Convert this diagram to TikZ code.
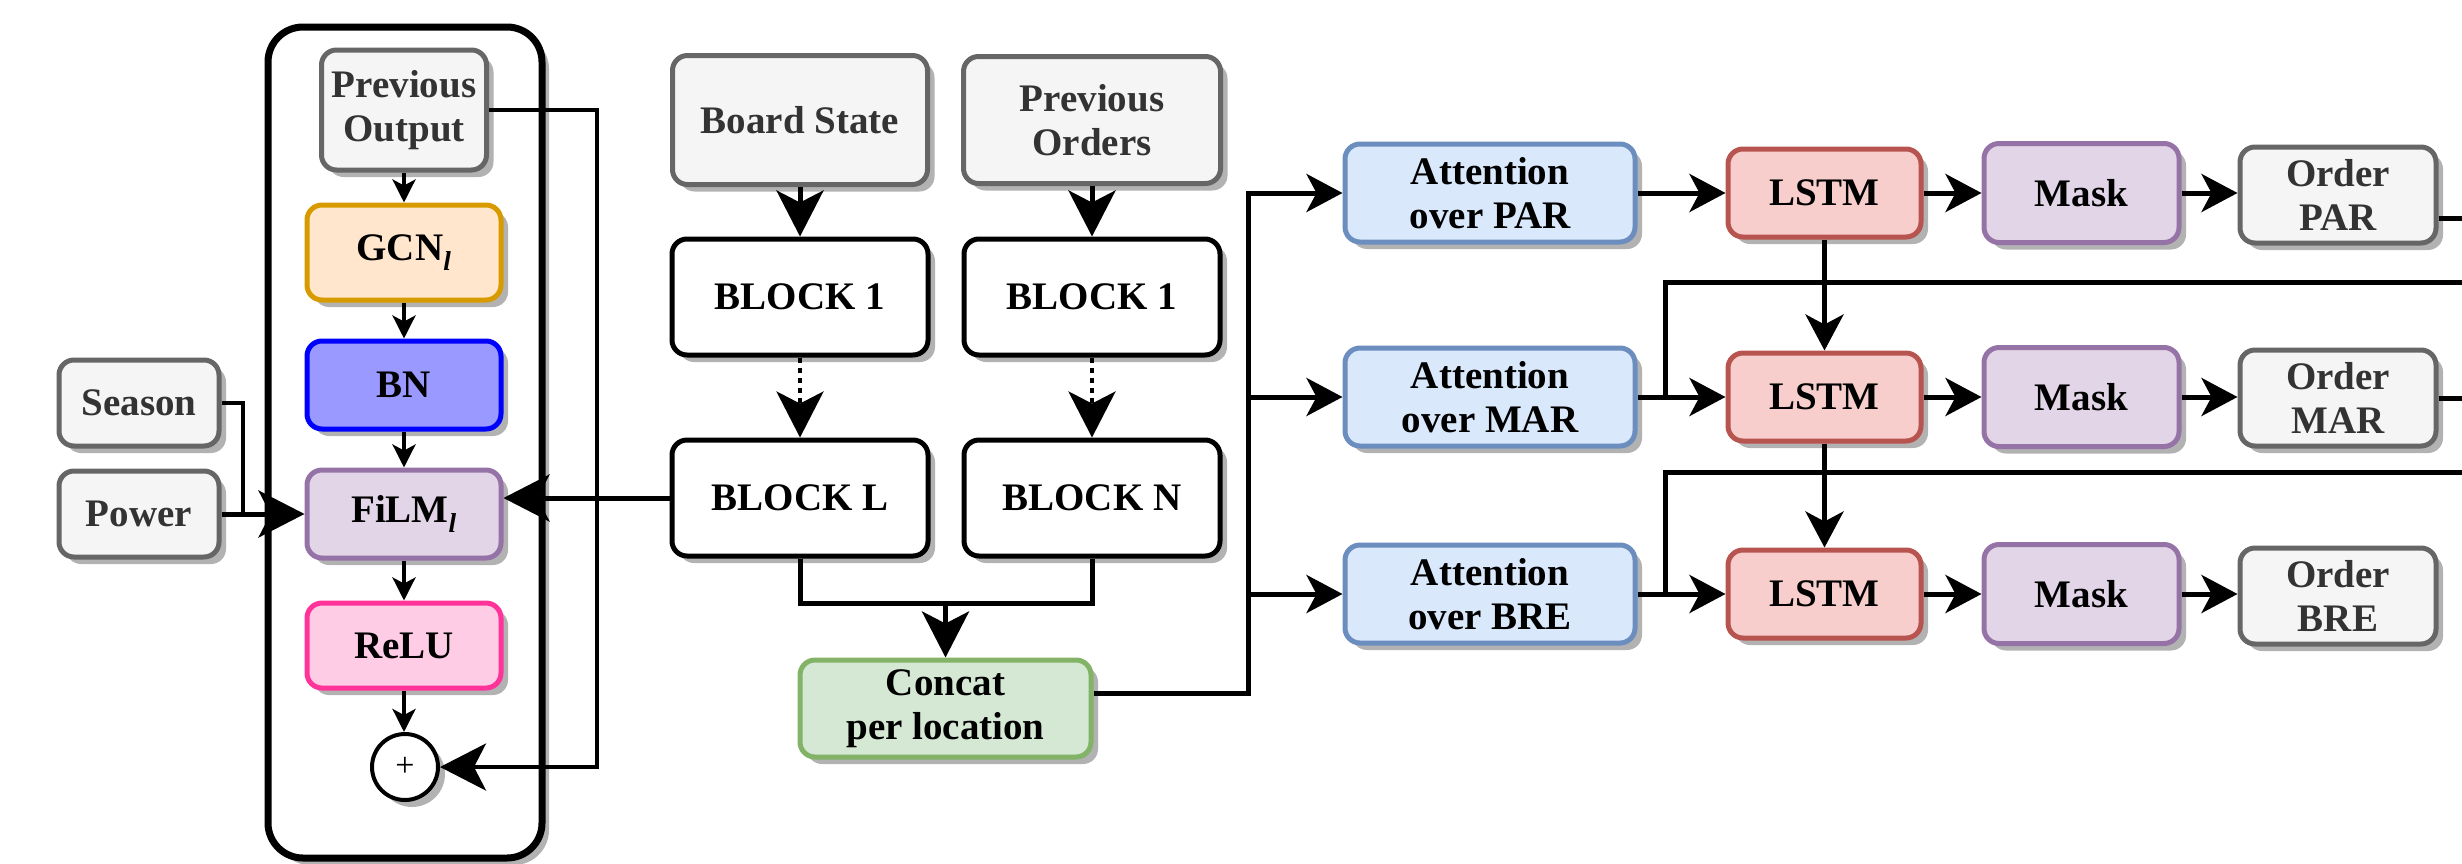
\documentclass[tikz,border=0pt]{standalone}
\usepackage{fontspec}
\setmainfont{Liberation Serif}
\usetikzlibrary{arrows.meta,shadows,calc}
\definecolor{gfill}{HTML}{F5F5F5}
\definecolor{gdraw}{HTML}{666666}
\definecolor{gtext}{HTML}{333333}
\definecolor{ofill}{HTML}{FFE6CC}
\definecolor{odraw}{HTML}{D79B00}
\definecolor{bnfill}{HTML}{9999FF}
\definecolor{bndraw}{HTML}{0000FF}
\definecolor{pfill}{HTML}{E1D5E7}
\definecolor{pdraw}{HTML}{9673A6}
\definecolor{rfill}{HTML}{FFCCE6}
\definecolor{rdraw}{HTML}{FF3399}
\definecolor{cfill}{HTML}{D5E8D4}
\definecolor{cdraw}{HTML}{82B366}
\definecolor{afill}{HTML}{DAE8FC}
\definecolor{adraw}{HTML}{6C8EBF}
\definecolor{lfill}{HTML}{F8CECC}
\definecolor{ldraw}{HTML}{B85450}
\begin{document}
\begin{tikzpicture}[x=1pt,y=-1pt,
  shad/.style={drop shadow={shadow xshift=7pt,shadow yshift=-7pt,fill=black,opacity=0.3}},
  box/.style={rectangle,rounded corners=15pt,line width=5pt,inner sep=0pt,align=center,
    font=\fontsize{39}{44}\selectfont\bfseries,shad},
  greybox/.style={box,fill=gfill,draw=gdraw,text=gtext},
  blockbox/.style={box,fill=white,draw=black,minimum width=256pt,minimum height=116pt},
  stackbox/.style={box,minimum width=194pt},
  attnbox/.style={box,fill=afill,draw=adraw,minimum width=290pt,minimum height=98pt},
  lstmbox/.style={box,fill=lfill,draw=ldraw,minimum width=193pt,minimum height=88pt},
  maskbox/.style={box,fill=pfill,draw=pdraw,minimum width=195pt,minimum height=99pt},
  orderbox/.style={greybox,minimum width=196pt,minimum height=96pt},
  conn/.style={line width=5pt,draw=black},
  big/.style={conn,-{Stealth[length=46pt,width=47pt,inset=12pt]}},
  med/.style={conn,-{Stealth[length=36pt,width=38pt,inset=10pt]}},
  small/.style={line width=4pt,draw=black,-{Stealth[length=23pt,width=23pt,inset=6pt]}},
]
\useasboundingbox (0,0) rectangle (2462,863);

% container
\node[rectangle,rounded corners=35pt,line width=7pt,draw=black,fill=white,
  minimum width=274pt,minimum height=831pt,shad] (cont) at (405,442.5) {};

% stack
\node[greybox,minimum width=165pt,minimum height=120pt] (prevout) at (404,110) {Previous\\Output};
\node[stackbox,fill=ofill,draw=odraw,minimum height=95pt] (gcn) at (404,252.5) {GCN\textsubscript{\itshape l}};
\node[stackbox,fill=bnfill,draw=bndraw,minimum height=88pt] (bn) at (404,385) {BN};
\node[stackbox,fill=pfill,draw=pdraw,minimum height=88pt] (film) at (404,514) {FiLM\textsubscript{\itshape l}};
\node[stackbox,fill=rfill,draw=rdraw,minimum height=85pt] (relu) at (404,645.5) {ReLU};
\node[circle,draw=black,fill=white,line width=4pt,minimum size=66pt,inner sep=0pt,shad,
  font=\fontsize{34}{34}\selectfont] (plus) at (405,767) {+};

% season / power
\node[greybox,minimum width=160pt,minimum height=86pt] (season) at (139,403) {Season};
\node[greybox,minimum width=160pt,minimum height=86pt] (power) at (139,514) {Power};

% encoder blocks
\node[greybox,minimum width=255pt,minimum height=129pt] (board) at (800,120) {Board State};
\node[greybox,minimum width=257pt,minimum height=127pt] (porders) at (1092,120) {Previous\\Orders};
\node[blockbox] (b1a) at (800,297) {BLOCK 1};
\node[blockbox] (b1b) at (1092,297) {BLOCK 1};
\node[blockbox] (bL) at (800,498) {BLOCK L};
\node[blockbox] (bN) at (1092,498) {BLOCK N};
\node[box,fill=cfill,draw=cdraw,minimum width=291pt,minimum height=97pt] (concat) at (945.5,708.5) {Concat\\per location};

% decoder rows
\node[attnbox] (attn1) at (1490,193) {Attention\\over PAR};
\node[attnbox] (attn2) at (1490,397) {Attention\\over MAR};
\node[attnbox] (attn3) at (1490,594) {Attention\\over BRE};
\node[lstmbox] (lstm1) at (1824.5,193) {LSTM};
\node[lstmbox] (lstm2) at (1824.5,397) {LSTM};
\node[lstmbox] (lstm3) at (1824.5,594) {LSTM};
\node[maskbox] (mask1) at (2081.5,193) {Mask};
\node[maskbox] (mask2) at (2081.5,397) {Mask};
\node[maskbox] (mask3) at (2081.5,594) {Mask};
\node[orderbox] (ord1) at (2338,195) {Order\\PAR};
\node[orderbox] (ord2) at (2338,398) {Order\\MAR};
\node[orderbox] (ord3) at (2338,596) {Order\\BRE};

% coordinates
\coordinate (fbx) at (597,0);
\coordinate (sj) at (243,0);
\coordinate (jn) at (945.5,603);
\coordinate (bus) at (1248,0);
\coordinate (fbA) at (1665,282);
\coordinate (endA) at (2462,282);
\coordinate (fbB) at (1665,472);
\coordinate (endB) at (2462,472);

% stack connectors
\draw[small] (prevout.south) -- (gcn.north);
\draw[small] (gcn.south) -- (bn.north);
\draw[small] (bn.south) -- (film.north);
\draw[small] (film.south) -- (relu.south |- relu.north);
\draw[small] (relu.south) -- (relu.south |- plus.north);
\draw[big,line width=4pt] (prevout.east) -- (prevout.east -| fbx) |- (plus.east);
\draw[conn,line width=4pt] (season.east) -| (sj |- power.east);
\draw[big] (power.east) -- (film.west);
\draw[big] (bL.west) -- (bL.west -| film.east);

% encoder connectors
\draw[big] (board.south) -- (b1a.north);
\draw[big] (porders.south) -- (b1b.north);
\draw[big,line width=4pt,dash pattern=on 5pt off 5pt] (b1a.south) -- (bL.north);
\draw[big,line width=4pt,dash pattern=on 5pt off 5pt] (b1b.south) -- (bN.north);
\draw[conn] (bL.south) |- (jn) -| (bN.south);
\draw[big] (jn) -- (concat.north);

% decoder connectors
\draw[med] ([yshift=15pt]concat.east) -| (bus |- attn1.west) -- (attn1.west);
\draw[med] (bus |- attn2.west) -- (attn2.west);
\draw[med] (bus |- attn3.west) -- (attn3.west);
\draw[med] (attn1.east) -- (lstm1.west);
\draw[med] (attn2.east) -- (lstm2.west);
\draw[med] (attn3.east) -- (lstm3.west);
\draw[med] (lstm1.south) -- (lstm2.north);
\draw[med] (lstm2.south) -- (lstm3.north);
\draw[conn] (fbA |- attn2.east) -- (fbA) -- (endA);
\draw[conn] (fbB |- attn3.east) -- (fbB) -- (endB);
\draw[med] (lstm1.east) -- (mask1.west);
\draw[med] (lstm2.east) -- (mask2.west);
\draw[med] (lstm3.east) -- (mask3.west);
\draw[med] (mask1.east) -- (ord1.west |- mask1.east);
\draw[med] (mask2.east) -- (ord2.west |- mask2.east);
\draw[med] (mask3.east) -- (ord3.west |- mask3.east);
\draw[conn] ([yshift=-23pt]ord1.east) -- ([yshift=-23pt]ord1.east -| endA);
\draw[conn] (ord2.east) -- (ord2.east -| endA);
\end{tikzpicture}
\end{document}
